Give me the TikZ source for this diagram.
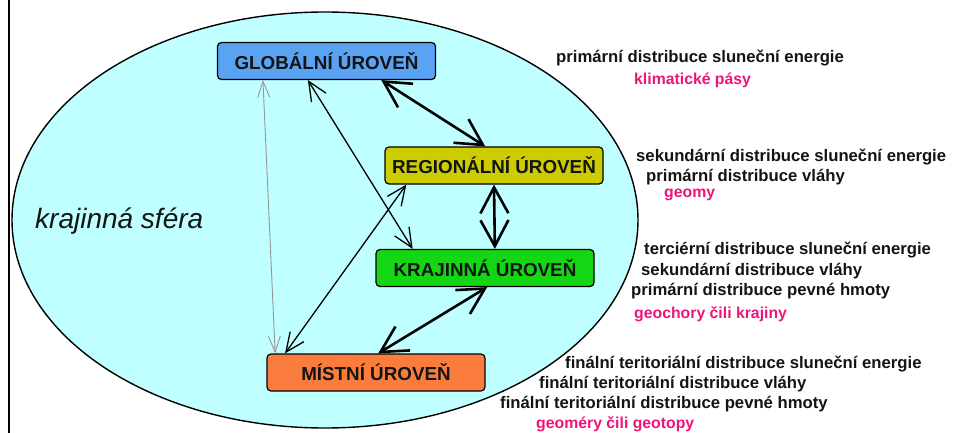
\documentclass[tikz,border=0pt]{standalone}
\usepackage{fontspec}
\setmainfont{Liberation Sans}
\usetikzlibrary{arrows.meta,calc}
\definecolor{skyfill}{RGB}{192,255,255}
\definecolor{globfill}{RGB}{90,162,242}
\definecolor{regfill}{RGB}{204,204,0}
\definecolor{krajfill}{RGB}{20,214,20}
\definecolor{mistfill}{RGB}{250,125,62}
\definecolor{pinktext}{RGB}{238,20,120}
\definecolor{grayline}{RGB}{150,150,150}
\tikzset{
  lvlbox/.style={draw=black, line width=1.2pt, rounded corners=4pt, minimum width=218pt, minimum height=37pt, inner sep=0pt, font=\fontsize{18.8}{20}\selectfont\bfseries, text=black!92},
  desc/.style={anchor=base west, inner sep=0pt, font=\fontsize{16.7}{18}\selectfont\bfseries, text=black!92},
  pinkdesc/.style={anchor=base west, inner sep=0pt, font=\fontsize{15.8}{17}\selectfont\bfseries, text=pinktext},
  thickarr/.style={line width=2.6pt, {Straight Barb[length=26pt,width=28pt,line width=2.6pt]}-{Straight Barb[length=26pt,width=28pt,line width=2.6pt]}},
  thinarr/.style={line width=1.3pt, {Straight Barb[length=19pt,width=17pt,line width=1.3pt]}-{Straight Barb[length=19pt,width=17pt,line width=1.3pt]}},
  grayarr/.style={draw=grayline, line width=0.9pt, {Straight Barb[length=16pt,width=12pt,line width=0.9pt]}-{Straight Barb[length=16pt,width=12pt,line width=0.9pt]}},
}
\begin{document}
\begin{tikzpicture}[x=1pt,y=-1pt]
\useasboundingbox (0,0) rectangle (956,433);
\fill[white] (0,0) rectangle (956,433);
\draw[line width=2.4pt] (9,0) -- (9,433);
\draw[fill=skyfill, line width=1.4pt] (325,220) ellipse [x radius=313pt, y radius=208pt];
\node[font=\fontsize{28}{30}\selectfont\itshape, anchor=base west, inner sep=0pt, text=black!92] (sphere) at (35,228) {krajinná sféra};

\node[lvlbox, fill=globfill] (glob) at (326.5,61) {GLOBÁLNÍ ÚROVEŇ};
\node[lvlbox, fill=regfill] (reg) at (494,165.5) {REGIONÁLNÍ ÚROVEŇ};
\node[lvlbox, fill=krajfill] (kraj) at (485,268) {KRAJINNÁ ÚROVEŇ};
\node[lvlbox, fill=mistfill] (mist) at (376,372.5) {MÍSTNÍ ÚROVEŇ};

\draw[grayarr] ($(glob.south west)!0.21!(glob.south east)$) -- ($(mist.north west)!0.04!(mist.north east)$);
\draw[thinarr] ($(glob.south west)!0.415!(glob.south east)$) -- ($(kraj.north west)!0.17!(kraj.north east)$);
\draw[thinarr] ($(reg.south west)!0.10!(reg.south east)$) -- ($(mist.north west)!0.085!(mist.north east)$);
\draw[thickarr] ($(glob.south west)!0.75!(glob.south east)$) -- ($(reg.north west)!0.46!(reg.north east)$);
\draw[thickarr] ($(reg.south west)!0.5!(reg.south east)$) -- ($(kraj.north west)!0.545!(kraj.north east)$);
\draw[thickarr] ($(kraj.south west)!0.51!(kraj.south east)$) -- ($(mist.north west)!0.51!(mist.north east)$);

\node[desc] (t1) at (556,63) {primární distribuce sluneční energie};
\node[pinkdesc] (p1) at (634,85) {klimatické pásy};
\node[desc] (t2) at (636,161) {sekundární distribuce sluneční energie};
\node[desc] (t3) at (646,182) {primární distribuce vláhy};
\node[pinkdesc] (p2) at (664,197) {geomy};
\node[desc] (t4) at (644,254) {terciérní distribuce sluneční energie};
\node[desc] (t5) at (641,275) {sekundární distribuce vláhy};
\node[desc] (t6) at (631,295) {primární distribuce pevné hmoty};
\node[pinkdesc] (p3) at (634,318) {geochory čili krajiny};
\node[desc] (t7) at (565,368) {finální teritoriální distribuce sluneční energie};
\node[desc] (t8) at (539,388) {finální teritoriální distribuce vláhy};
\node[desc] (t9) at (500,408) {finální teritoriální distribuce pevné hmoty};
\node[pinkdesc] (p4) at (536,428) {geoméry čili geotopy};
\end{tikzpicture}
\end{document}
